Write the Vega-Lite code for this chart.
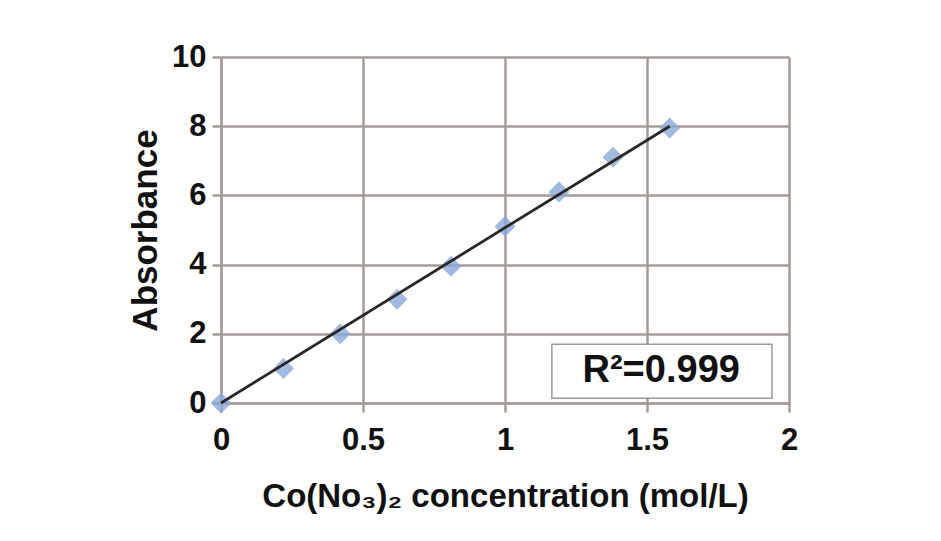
{
  "$schema": "https://vega.github.io/schema/vega-lite/v6.json",
  "width": 568,
  "height": 346,
  "autosize": {"type": "none"},
  "padding": {"left": 221, "top": 57, "right": 152, "bottom": 138},
  "background": "white",
  "config": {
    "view": {"stroke": null},
    "font": "Liberation Sans",
    "axis": {
      "gridColor": "#a59c98",
      "gridWidth": 2.5,
      "gridOpacity": 1,
      "tickColor": "#a59c98",
      "tickWidth": 2.5,
      "tickSize": 9,
      "domainColor": "#a59c98",
      "domainWidth": 2.5,
      "labelFont": "Liberation Sans",
      "labelFontWeight": "bold",
      "labelFontSize": 31,
      "labelColor": "#111",
      "titleFont": "Liberation Sans",
      "titleFontWeight": "bold",
      "titleColor": "#111"
    }
  },
  "datasets": {
    "pts": [
      {"c": 0, "a": 0},
      {"c": 0.22, "a": 1.0},
      {"c": 0.42, "a": 2.0},
      {"c": 0.62, "a": 3.0},
      {"c": 0.81, "a": 3.95},
      {"c": 1.0, "a": 5.1},
      {"c": 1.19, "a": 6.1},
      {"c": 1.38, "a": 7.1},
      {"c": 1.58, "a": 7.95}
    ],
    "fit": [
      {"c": 0, "a": 0},
      {"c": 1.58, "a": 8.0}
    ],
    "box": [
      {"x1": 1.165, "x2": 1.94, "y1": 0.14, "y2": 1.7, "xm": 1.55, "ym": 0.92, "label": "R²=0.999"}
    ]
  },
  "layer": [
    {
      "data": {"name": "pts"},
      "mark": {"type": "point", "shape": "diamond", "filled": true, "size": 440, "color": "#8aa9d8", "opacity": 0.8},
      "encoding": {
        "x": {
          "field": "c", "type": "quantitative",
          "scale": {"domain": [0, 2], "nice": false},
          "axis": {"values": [0, 0.5, 1, 1.5, 2], "format": "~r", "title": "Co(No₃)₂ concentration (mol/L)", "titleFontSize": 33, "labelPadding": 13, "titlePadding": 25, "labelFlush": false}
        },
        "y": {
          "field": "a", "type": "quantitative",
          "scale": {"domain": [0, 10], "nice": false},
          "axis": {"values": [0, 2, 4, 6, 8, 10], "format": "d", "title": "Absorbance", "titleFontSize": 35, "labelPadding": 6, "titlePadding": 8, "labelFlush": false}
        }
      }
    },
    {
      "data": {"name": "fit"},
      "mark": {"type": "line", "color": "#2a2626", "strokeWidth": 2.8},
      "encoding": {
        "x": {"field": "c", "type": "quantitative"},
        "y": {"field": "a", "type": "quantitative"}
      }
    },
    {
      "data": {"name": "box"},
      "mark": {"type": "rect", "fill": "white", "stroke": "#9a9a9a", "strokeWidth": 1.5},
      "encoding": {
        "x": {"field": "x1", "type": "quantitative"},
        "x2": {"field": "x2"},
        "y": {"field": "y1", "type": "quantitative"},
        "y2": {"field": "y2"}
      }
    },
    {
      "data": {"name": "box"},
      "mark": {"type": "text", "font": "Liberation Sans", "fontWeight": "bold", "fontSize": 38, "color": "#111", "align": "center", "baseline": "middle"},
      "encoding": {
        "x": {"field": "xm", "type": "quantitative"},
        "y": {"field": "ym", "type": "quantitative"},
        "text": {"field": "label"}
      }
    }
  ]
}
